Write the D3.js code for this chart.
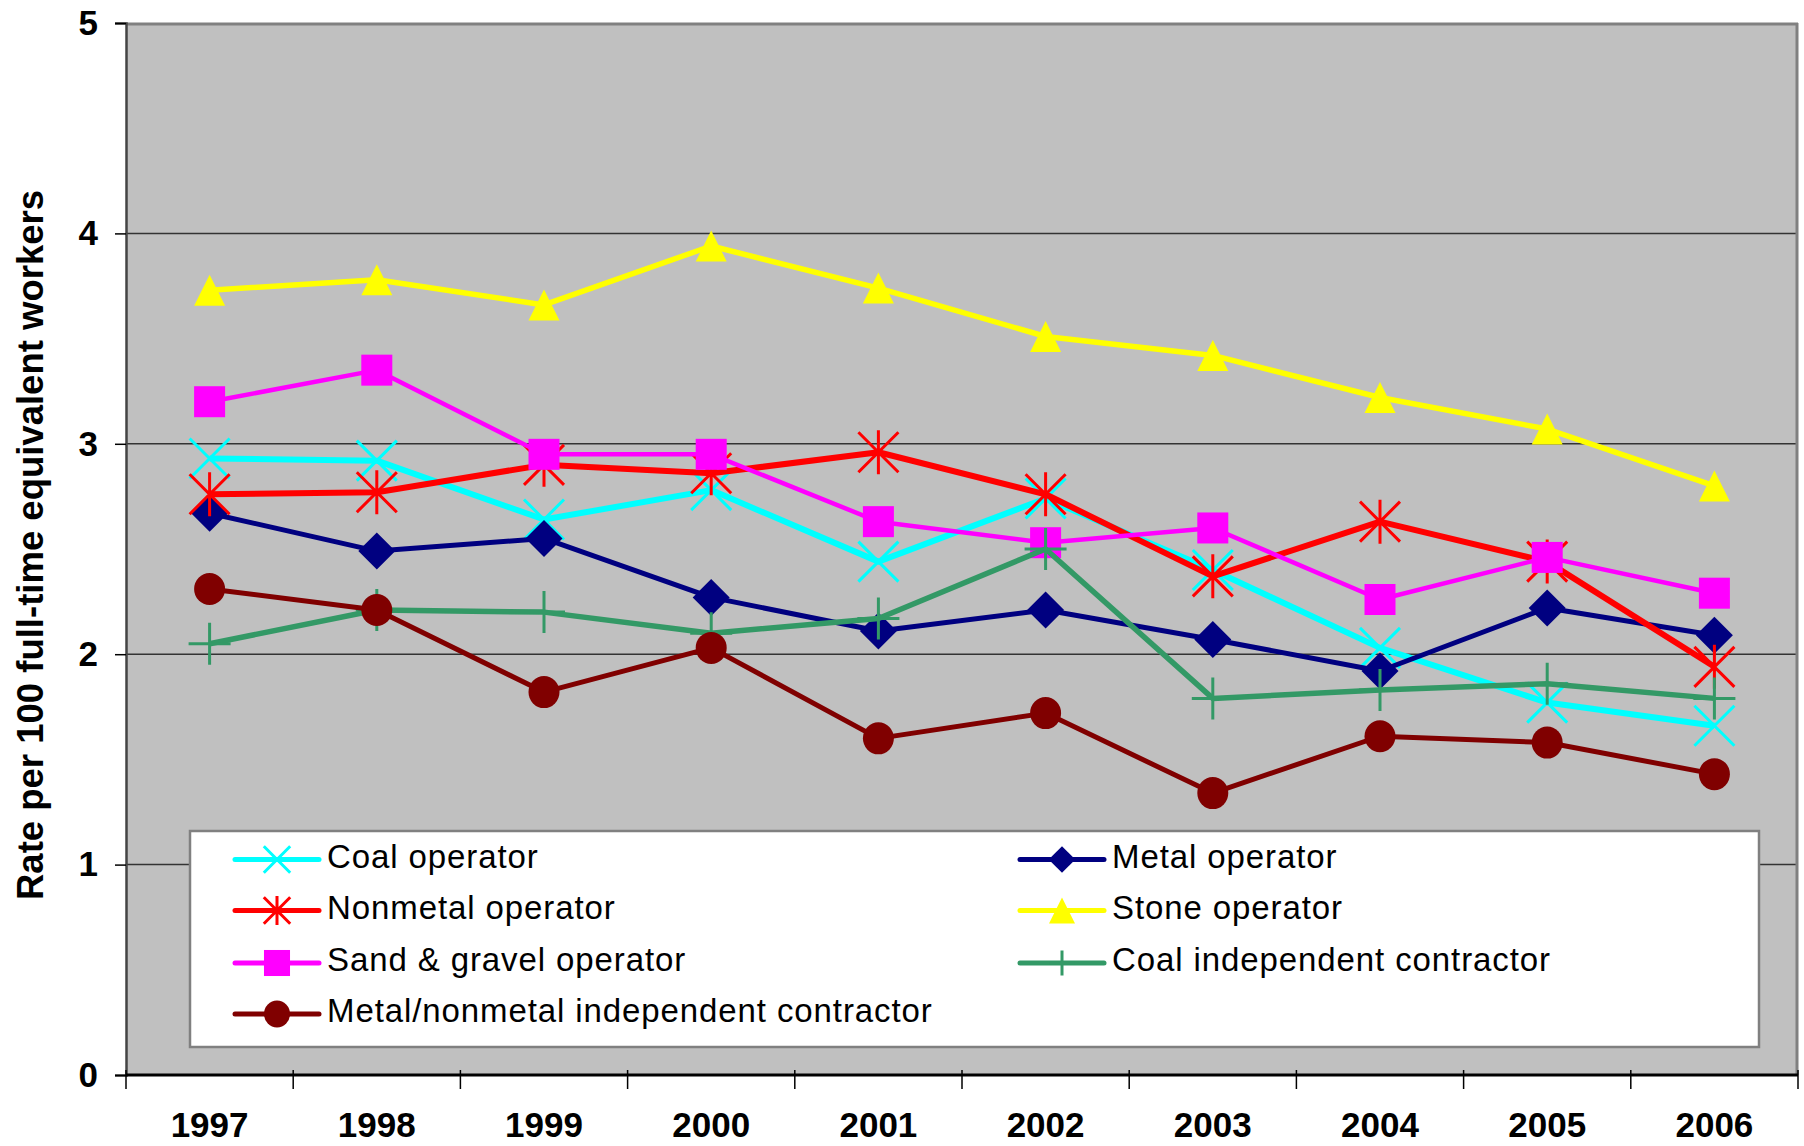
<!DOCTYPE html>
<html>
<head>
<meta charset="utf-8">
<script src="https://cdn.jsdelivr.net/npm/d3@7"></script>
<style>
  body { margin: 0; background: #fff; }
  svg { display: block; }
</style>
</head>
<body>
<div id="chart"></div>
<script>
const years = [1997, 1998, 1999, 2000, 2001, 2002, 2003, 2004, 2005, 2006];

const coalOperator       = [2.93, 2.92, 2.64, 2.78, 2.44, 2.74, 2.40, 2.03, 1.77, 1.66];
const metalOperator      = [2.67, 2.49, 2.55, 2.27, 2.11, 2.21, 2.07, 1.92, 2.22, 2.09];
const nonmetalOperator   = [2.76, 2.77, 2.90, 2.86, 2.96, 2.76, 2.37, 2.63, 2.44, 1.94];
const stoneOperator      = [3.73, 3.78, 3.66, 3.94, 3.74, 3.51, 3.42, 3.22, 3.07, 2.80];
const sandGravelOperator = [3.20, 3.35, 2.95, 2.95, 2.63, 2.53, 2.60, 2.26, 2.46, 2.29];
const coalContractor     = [2.05, 2.21, 2.20, 2.10, 2.17, 2.50, 1.79, 1.83, 1.86, 1.79];
const mnmContractor      = [2.31, 2.21, 1.82, 2.03, 1.60, 1.72, 1.34, 1.61, 1.58, 1.43];

const yTicks = [0, 1, 2, 3, 4, 5];

// series in drawing order (later on top)
const series = [
  { name: "Coal operator", values: coalOperator, color: "#00FFFF", width: 6, marker: "x" },
  { name: "Metal operator", values: metalOperator, color: "#000080", width: 5, marker: "diamond" },
  { name: "Nonmetal operator", values: nonmetalOperator, color: "#FF0000", width: 6, marker: "star" },
  { name: "Stone operator", values: stoneOperator, color: "#FFFF00", width: 5.5, marker: "triangle" },
  { name: "Sand & gravel operator", values: sandGravelOperator, color: "#FF00FF", width: 4.5, marker: "square" },
  { name: "Coal independent contractor", values: coalContractor, color: "#339966", width: 5.5, marker: "plus" },
  { name: "Metal/nonmetal independent contractor", values: mnmContractor, color: "#800000", width: 5, marker: "circle" }
];

// legend marker scale per marker type
const legendScale = { x: 0.66, star: 0.66, plus: 0.6, square: 0.84, circle: 0.84, triangle: 0.84, diamond: 0.72 };

const width = 1804, height = 1146;
const margin = { top: 23, right: 6, bottom: 71, left: 126 };
const innerWidth = width - margin.left - margin.right;
const innerHeight = height - margin.top - margin.bottom;

const svg = d3.select("#chart").append("svg")
  .attr("width", width)
  .attr("height", height);

const g = svg.append("g")
  .attr("transform", `translate(${margin.left},${margin.top})`);

const x = d3.scaleBand().domain(years).range([0, innerWidth]);
const y = d3.scaleLinear().domain([0, 5]).range([innerHeight, 0]);

// plot area
g.append("rect")
  .attr("width", innerWidth)
  .attr("height", innerHeight)
  .attr("fill", "#C0C0C0");

// gridlines
g.selectAll(".grid")
  .data(yTicks.filter(d => d > 0 && d < 5))
  .enter().append("line")
  .attr("x1", 0).attr("x2", innerWidth)
  .attr("y1", d => y(d)).attr("y2", d => y(d))
  .attr("stroke", "#333").attr("stroke-width", 1.5);

// border top / right
g.append("line").attr("x1", 0).attr("x2", innerWidth).attr("y1", 1).attr("y2", 1)
  .attr("stroke", "#808080").attr("stroke-width", 3);
g.append("line").attr("x1", innerWidth - 1).attr("x2", innerWidth - 1).attr("y1", 0).attr("y2", innerHeight)
  .attr("stroke", "#808080").attr("stroke-width", 3);

// y axis
const yAxis = g.append("g")
  .call(d3.axisLeft(y).tickValues(yTicks).tickSize(11).tickPadding(17).tickFormat(d3.format("d")));
yAxis.select(".domain").attr("stroke", "#444").attr("stroke-width", 2.5);
yAxis.selectAll(".tick line").attr("stroke", "#000").attr("stroke-width", 1.5);
yAxis.selectAll("text")
  .attr("font-family", "Liberation Sans, Arial, sans-serif")
  .attr("font-weight", "bold")
  .attr("font-size", 35)
  .attr("fill", "#000");

// x axis with cross ticks on band boundaries
g.append("line")
  .attr("x1", 0).attr("x2", innerWidth)
  .attr("y1", innerHeight).attr("y2", innerHeight)
  .attr("stroke", "#000").attr("stroke-width", 3);

const boundaries = years.map(d => x(d)).concat([innerWidth]);
g.selectAll(".xtick")
  .data(boundaries)
  .enter().append("line")
  .attr("x1", d => d).attr("x2", d => d)
  .attr("y1", innerHeight - 5).attr("y2", innerHeight + 14)
  .attr("stroke", "#000").attr("stroke-width", 1.5);

g.selectAll(".xlabel")
  .data(years)
  .enter().append("text")
  .attr("x", d => x(d) + x.bandwidth() / 2)
  .attr("y", innerHeight + 62)
  .attr("text-anchor", "middle")
  .attr("font-family", "Liberation Sans, Arial, sans-serif")
  .attr("font-weight", "bold")
  .attr("font-size", 35)
  .text(d => d);

// y axis title
svg.append("text")
  .attr("transform", "translate(43,545) rotate(-90)")
  .attr("text-anchor", "middle")
  .attr("font-family", "Liberation Sans, Arial, sans-serif")
  .attr("font-weight", "bold")
  .attr("font-size", 36.5)
  .text("Rate per 100 full-time equivalent workers");

// marker drawing
function drawMarker(sel, type, color, k) {
  if (type === "square") {
    const h = 15.5 * k;
    sel.append("rect").attr("x", -h).attr("y", -h).attr("width", 2 * h).attr("height", 2 * h).attr("fill", color);
  } else if (type === "diamond") {
    const h = 18.5 * k;
    sel.append("path").attr("d", `M0,${-h}L${h},0L0,${h}L${-h},0Z`).attr("fill", color);
  } else if (type === "triangle") {
    const w = 15.5 * k, hh = 15.5 * k;
    sel.append("path").attr("d", `M0,${-hh}L${w},${hh}L${-w},${hh}Z`).attr("fill", color);
  } else if (type === "circle") {
    sel.append("ellipse").attr("rx", 15.5 * k).attr("ry", 16 * k).attr("fill", color);
  } else if (type === "x") {
    const h = 20 * k;
    sel.append("path").attr("d", `M${-h},${-h}L${h},${h}M${-h},${h}L${h},${-h}`)
      .attr("stroke", color).attr("stroke-width", 3).attr("fill", "none");
  } else if (type === "star") {
    const h = 20 * k, v = 22 * k;
    sel.append("path").attr("d", `M${-h},${-h}L${h},${h}M${-h},${h}L${h},${-h}M0,${-v}L0,${v}`)
      .attr("stroke", color).attr("stroke-width", 3).attr("fill", "none");
  } else if (type === "plus") {
    const h = 21 * k;
    sel.append("path").attr("d", `M${-h},0L${h},0M0,${-h}L0,${h}`)
      .attr("stroke", color).attr("stroke-width", 3).attr("fill", "none");
  }
}

const line = d3.line()
  .x((d, i) => x(years[i]) + x.bandwidth() / 2)
  .y(d => y(d));

series.forEach(s => {
  const sg = g.append("g");
  sg.append("path")
    .attr("d", line(s.values))
    .attr("fill", "none")
    .attr("stroke", s.color)
    .attr("stroke-width", s.width)
    .attr("stroke-linejoin", "round");
  sg.selectAll(".pt")
    .data(s.values)
    .enter().append("g")
    .attr("transform", (d, i) => `translate(${x(years[i]) + x.bandwidth() / 2},${y(d)})`)
    .each(function () { drawMarker(d3.select(this), s.marker, s.color, 1); });
});

// legend
const legend = svg.append("g");
legend.append("rect")
  .attr("x", 190).attr("y", 831)
  .attr("width", 1569).attr("height", 216)
  .attr("fill", "#fff")
  .attr("stroke", "#808080").attr("stroke-width", 2.5);

const colX = [235, 1020];
const rowY = [859.5, 910.5, 963, 1014];

series.forEach((s, i) => {
  const col = i % 2, row = Math.floor(i / 2);
  const lx = colX[col], ly = rowY[row];
  const item = legend.append("g").attr("transform", `translate(${lx},${ly})`);
  item.append("line")
    .attr("x1", 0).attr("x2", 84)
    .attr("stroke", s.color).attr("stroke-width", 5)
    .attr("stroke-linecap", "round");
  const m = item.append("g").attr("transform", "translate(42,0)");
  drawMarker(m, s.marker, s.color, legendScale[s.marker]);
  item.append("text")
    .attr("x", 92).attr("y", 8)
    .attr("font-family", "Liberation Sans, Arial, sans-serif")
    .attr("font-size", 33)
    .attr("letter-spacing", 0.9)
    .text(s.name);
});
</script>
</body>
</html>
